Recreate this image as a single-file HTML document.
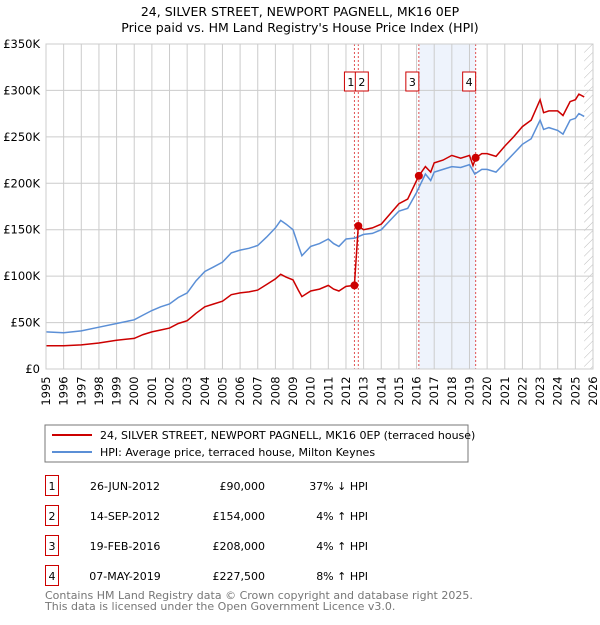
<!DOCTYPE html>
<html><head><meta charset="utf-8"><style>
body{margin:0;background:#fff;font-family:"Liberation Sans","DejaVu Sans",sans-serif;}
svg text{font-family:"DejaVu Sans","Liberation Sans",sans-serif;}
</style></head><body>
<svg id="c" width="600" height="620" xmlns="http://www.w3.org/2000/svg">
<defs><pattern id="hatch" width="6" height="6" patternUnits="userSpaceOnUse" patternTransform="rotate(45)"><line x1="0" y1="0" x2="0" y2="6" stroke="#bbb" stroke-width="1"/></pattern></defs>
<text x="300" y="16" text-anchor="middle" font-size="12.5">24, SILVER STREET, NEWPORT PAGNELL, MK16 0EP</text>
<text x="300" y="32" text-anchor="middle" font-size="12.5">Price paid vs. HM Land Registry's House Price Index (HPI)</text>
<g id="grid"></g><g id="marks"></g><g id="axes"></g>
<rect x="45" y="425" width="423" height="37" fill="#fff" stroke="#777"/>
<line x1="52" y1="435" x2="92" y2="435" stroke="#cc0000" stroke-width="2"/>
<text x="100" y="439" font-size="11">24, SILVER STREET, NEWPORT PAGNELL, MK16 0EP (terraced house)</text>
<line x1="52" y1="452" x2="92" y2="452" stroke="#5b8fd6" stroke-width="2"/>
<text x="100" y="456" font-size="11">HPI: Average price, terraced house, Milton Keynes</text>
<g id="table" font-size="11"></g>
<text x="45" y="599" font-size="11" fill="#777">Contains HM Land Registry data © Crown copyright and database right 2025.</text>
<text x="45" y="610" font-size="11" fill="#777">This data is licensed under the Open Government Licence v3.0.</text>
</svg>
<script>
const hpiYears=[1995,1996,1997,1998,1999,2000,2000.5,2001,2001.5,2002,2002.5,2003,2003.5,2004,2004.5,2005,2005.5,2006,2006.5,2007,2007.5,2008,2008.3,2008.6,2009,2009.3,2009.5,2010,2010.5,2011,2011.3,2011.6,2012,2012.5,2013,2013.5,2014,2014.5,2015,2015.5,2016,2016.5,2016.8,2017,2017.5,2018,2018.5,2019,2019.3,2019.7,2020,2020.5,2021,2021.5,2022,2022.5,2023,2023.2,2023.5,2024,2024.3,2024.7,2025,2025.2,2025.5];
const hpiValues=[40,39,41,45,49,53,58,63,67,70,77,82,95,105,110,115,125,128,130,133,142,152,160,156,150,133,122,132,135,140,135,132,140,141,145,146,150,160,170,173,190,210,203,212,215,218,217,220,210,215,215,212,222,232,242,248,268,258,260,257,253,268,270,275,272];
const propYears=[1995,1996,1997,1998,1999,2000,2000.5,2001,2001.5,2002,2002.5,2003,2003.5,2004,2004.5,2005,2005.5,2006,2006.5,2007,2007.5,2008,2008.3,2008.6,2009,2009.3,2009.5,2010,2010.5,2011,2011.3,2011.6,2012,2012.48,2012.7,2013,2013.5,2014,2014.5,2015,2015.5,2016.13,2016.5,2016.8,2017,2017.5,2018,2018.5,2019,2019.2,2019.35,2019.7,2020,2020.5,2021,2021.5,2022,2022.5,2023,2023.2,2023.5,2024,2024.3,2024.7,2025,2025.2,2025.5];
const propValues=[25,25,26,28,31,33,37,40,42,44,49,52,60,67,70,73,80,82,83,85,91,97,102,99,96,85,78,84,86,90,86,84,89,90,154,150,152,156,167,178,183,208,218,212,222,225,230,227,230,219,227.5,232,232,229,240,250,261,268,290,276,278,278,273,288,290,296,293];
const saleLabels=["1","2","3","4"];
const saleYears=[2012.48,2012.70,2016.13,2019.35];
const saleValues=[90,154,208,227.5];
const saleDates=["26-JUN-2012","14-SEP-2012","19-FEB-2016","07-MAY-2019"];
const salePrices=["£90,000","£154,000","£208,000","£227,500"];
const saleHpi=["37% ↓ HPI","4% ↑ HPI","4% ↑ HPI","8% ↑ HPI"];
const yTicks=[0,50,100,150,200,250,300,350];
const yTickLabels=["£0","£50K","£100K","£150K","£200K","£250K","£300K","£350K"];
const xTicks=[1995,1996,1997,1998,1999,2000,2001,2002,2003,2004,2005,2006,2007,2008,2009,2010,2011,2012,2013,2014,2015,2016,2017,2018,2019,2020,2021,2022,2023,2024,2025,2026];
const X0=46,X1=593,Y0=369,Y1=44;
const x=v=>X0+(v-1995)*(X1-X0)/31;
const y=v=>Y0-v*(Y0-Y1)/350;
const NS="http://www.w3.org/2000/svg";
function mk(tag,attrs,parent){const e=document.createElementNS(NS,tag);for(const k in attrs)e.setAttribute(k,attrs[k]);parent.appendChild(e);return e;}
const grid=document.getElementById('grid'),marks=document.getElementById('marks'),axes=document.getElementById('axes'),table=document.getElementById('table');
// shaded region & hatch
let r=mk('rect',{x:x(saleYears[2]),y:Y1,width:x(saleYears[3])-x(saleYears[2]),height:Y0-Y1,fill:'#eef3fc'},grid);


r=mk('rect',{x:x(2025.5),y:Y1,width:X1-x(2025.5),height:Y0-Y1,fill:'url(#hatch)'},grid);


xTicks.forEach(t=>{const l=mk('line',{x1:x(t),x2:x(t),y1:Y1,y2:Y0,stroke:'#ccc'},grid);


const tx=mk('text',{transform:`translate(${x(t)+4},${Y0+22}) rotate(-90)`,'font-size':11.5,'text-anchor':'middle'},axes);tx.textContent=t;

});
yTicks.forEach((t,i)=>{const l=mk('line',{x1:X0,x2:X1,y1:y(t),y2:y(t),stroke:'#ccc'},grid);


const tx=mk('text',{x:X0-6,y:y(t)+4,'font-size':11.5,'text-anchor':'end'},axes);tx.textContent=yTickLabels[i];

});
saleYears.forEach((s,i)=>{const l=mk('line',{x1:x(s),x2:x(s),y1:Y1,y2:Y0,stroke:'#e05050','stroke-dasharray':'2,2'},grid);

});
const pts=(xs,vs)=>xs.map((v,i)=>x(v).toFixed(1)+','+y(vs[i]).toFixed(1)).join(' ');
let p=mk('polyline',{points:pts(hpiYears,hpiValues),fill:'none',stroke:'#5b8fd6','stroke-width':1.5},marks);


p=mk('polyline',{points:pts(propYears,propValues),fill:'none',stroke:'#cc0000','stroke-width':1.5},marks);


saleYears.forEach((s,i)=>{const c=mk('circle',{cx:x(s),cy:y(saleValues[i]),r:4,fill:'#cc0000'},marks);


const bx=x(s)-(i==0?10:i==1?3:13);
const b=mk('rect',{x:bx,y:72,width:13,height:19,fill:'#fff',stroke:'#cc0000'},marks);


const t=mk('text',{x:bx+6.5,y:86,'font-size':11,'text-anchor':'middle'},marks);t.textContent=saleLabels[i];


const ry=476+i*30;
const tb=mk('rect',{x:45.5,y:ry-0.5,width:13,height:20,fill:'#fff',stroke:'#cc0000'},table);


const cells=[[52,'middle',saleLabels[i]],[125,'middle',saleDates[i]],[265,'end',salePrices[i]],[368,'end',saleHpi[i]]];
cells.forEach(([cx,a,txt],j)=>{const e=mk('text',{x:cx,y:ry+14,'text-anchor':a},table);e.textContent=txt;

});});
let ax=mk('rect',{x:X0,y:Y1,width:X1-X0,height:Y0-Y1,fill:'none',stroke:'#ccc'},axes);


</script>
</body></html>
